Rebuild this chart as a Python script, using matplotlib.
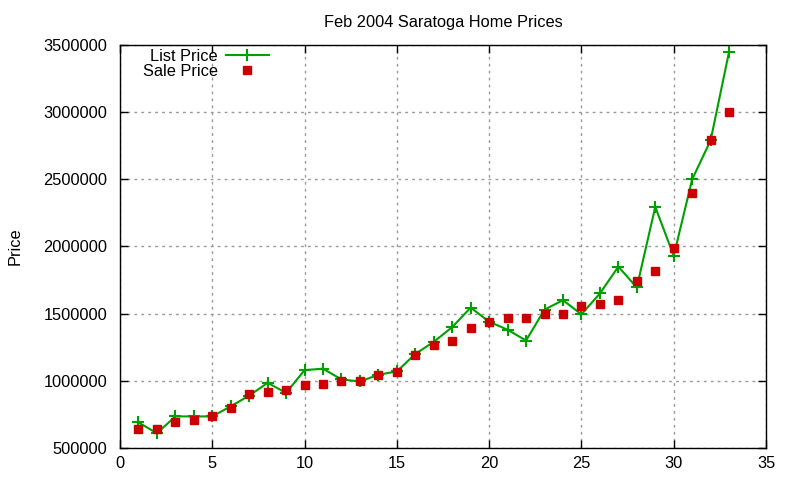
import matplotlib
matplotlib.use("Agg")
import matplotlib.pyplot as plt

# 数据
days = list(range(1, 34))
list_price = [690000, 610000, 735000, 735000, 735000, 810000, 890000, 985000, 910000,
              1080000, 1090000, 1010000, 995000, 1045000, 1070000, 1200000, 1290000,
              1400000, 1545000, 1440000, 1380000, 1300000, 1530000, 1600000, 1495000,
              1650000, 1850000, 1695000, 2295000, 1930000, 2500000, 2790000, 3450000]
sale_price = [640000, 645000, 690000, 705000, 735000, 795000, 900000, 920000, 935000,
              970000, 980000, 995000, 1000000, 1045000, 1065000, 1195000, 1270000,
              1300000, 1395000, 1440000, 1470000, 1470000, 1500000, 1500000, 1560000,
              1575000, 1600000, 1740000, 1820000, 1990000, 2395000, 2790000, 3000000]
x_ticks = [0, 5, 10, 15, 20, 25, 30, 35]
y_ticks = [500000, 1000000, 1500000, 2000000, 2500000, 3000000, 3500000]

plt.rcParams['font.family'] = ['Liberation Sans', 'DejaVu Sans']
plt.rcParams['font.size'] = 11.8

fig = plt.figure(figsize=(8, 4.8), dpi=100)
ax = fig.add_axes([0.15, 0.0667, 0.8075, 0.8396])

ax.plot(days, list_price, color='#00a000', linewidth=1.5, marker='+',
        markersize=8, markeredgewidth=1.5, label='List Price')
ax.plot(days, sale_price, color='#cc0000', linestyle='none', marker='s',
        markersize=5.8, label='Sale Price')

ax.set_xlim(0, 35)
ax.set_ylim(500000, 3500000)
ax.set_xticks(x_ticks)
ax.set_yticks(y_ticks)
ax.set_yticklabels([str(v) for v in y_ticks])
ax.tick_params(axis='y', direction='in', length=6, width=1, right=True, pad=9)
ax.tick_params(axis='x', direction='in', length=6, width=1, top=True, pad=6)
ax.grid(True, color='#999999', linestyle=(0, (2, 3)), linewidth=1)
for s in ax.spines.values():
    s.set_linewidth(1)

ax.set_title('Feb 2004 Saratoga Home Prices', fontsize=11.8, pad=13)
ax.set_ylabel('Price', labelpad=15)

ax.legend(loc='upper left', markerfirst=False, frameon=False, handlelength=2.6,
          handletextpad=0.5, borderaxespad=0.2, labelspacing=0.0,
          bbox_to_anchor=(0.02, 1.015))

fig.savefig('out.png', dpi=100)
